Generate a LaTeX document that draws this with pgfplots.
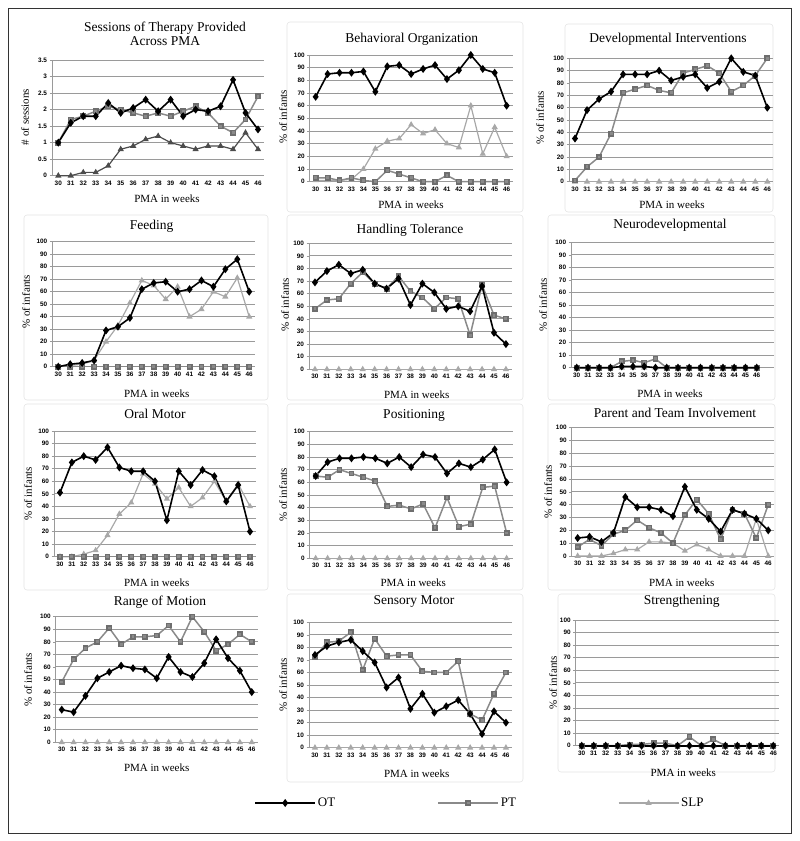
\documentclass[border=0pt]{standalone}
\usepackage{pgfplots}
\pgfplotsset{compat=1.18}
\usepackage{pgfplotstable}
\usepackage{fontspec}
\setmainfont{Liberation Serif}
\newfontfamily\tickfont{Liberation Sans}
\definecolor{gridc}{HTML}{9A9A9A}
\definecolor{ptc}{HTML}{8A8A8A}
\definecolor{ptd}{HTML}{6E6E6E}
\definecolor{slpc}{HTML}{A8A8A8}
\definecolor{framec}{HTML}{E4E4E4}

\pgfplotstableread{
x OT PT SLP
30 1.0 1.0 0
31 1.6 1.7 0
32 1.8 1.8 0.1
33 1.8 1.95 0.1
34 2.2 2.1 0.3
35 1.9 2.0 0.8
36 2.05 1.9 0.9
37 2.3 1.8 1.1
38 1.95 1.9 1.2
39 2.3 1.8 1.0
40 1.8 1.95 0.9
41 2.0 2.1 0.8
42 1.95 1.9 0.9
43 2.1 1.5 0.9
44 2.9 1.3 0.8
45 1.9 1.7 1.3
46 1.4 2.4 0.8
}\sessions
\pgfplotstableread{
x OT PT SLP
30 67 3 1
31 85 3 1
32 86 1 1
33 86 3 2
34 87 1 10
35 71 0 26
36 91 9 32
37 92 6 34
38 85 3 45
39 89 0 38
40 92 0 41
41 81 5 30
42 88 0 27
43 100 0 60
44 89 0 22
45 86 0 43
46 60 0 20
}\behav
\pgfplotstableread{
x OT PT SLP
30 35 1 0
31 58 12 0
32 67 20 0
33 73 39 0
34 87 72 0
35 87 75 0
36 87 78 0
37 90 74 0
38 82 72 0
39 85 88 0
40 87 91 0
41 76 94 0
42 81 88 0
43 100 73 0
44 89 78 0
45 86 86 0
46 60 100 0
}\devel
\pgfplotstableread{
x OT PT SLP
30 0 0 0
31 2 0 1
32 3 0 2
33 5 0 5
34 29 0 20
35 32 0 33
36 39 0 51
37 62 0 69
38 67 0 65
39 68 0 54
40 60 0 64
41 62 0 40
42 69 0 46
43 64 0 60
44 78 0 56
45 86 0 71
46 60 0 40
}\feeding
\pgfplotstableread{
x OT PT SLP
30 69 48 0
31 78 55 0
32 83 56 0
33 76 68 0
34 79 77 0
35 68 68 0
36 64 64 0
37 72 74 0
38 51 62 0
39 68 57 0
40 61 48 0
41 48 57 0
42 50 56 0
43 46 27 0
44 66 67 0
45 29 43 0
46 20 40 0
}\handling
\pgfplotstableread{
x OT PT SLP
30 0 0 0
31 0 0 0
32 0 0 0
33 0 0 0
34 1 5 0
35 1 6 0
36 1 4 0
37 0 7 0
38 0 0 0
39 0 0 0
40 0 0 0
41 0 0 0
42 0 0 0
43 0 0 0
44 0 0 0
45 0 0 0
46 0 0 0
}\neuro
\pgfplotstableread{
x OT PT SLP
30 51 0 0
31 75 0 0
32 80 0 2
33 77 0 5
34 87 0 17
35 71 0 34
36 68 0 43
37 68 0 66
38 60 0 58
39 29 0 46
40 68 0 55
41 57 0 40
42 69 0 47
43 64 0 60
44 44 0 44
45 57 0 58
46 20 0 40
}\oral
\pgfplotstableread{
x OT PT SLP
30 65 65 0
31 76 64 0
32 79 70 0
33 79 67 0
34 80 64 0
35 79 61 0
36 75 41 0
37 80 42 0
38 72 39 0
39 82 43 0
40 80 24 0
41 67 48 0
42 75 25 0
43 72 27 0
44 78 56 0
45 86 57 0
46 60 20 0
}\posit
\pgfplotstableread{
x OT PT SLP
30 14 7 0
31 15 13 0
32 11 8 0
33 18 17 2
34 46 20 5
35 38 28 5
36 38 22 11
37 36 18 11
38 31 10 10
39 54 32 4
40 36 44 9
41 29 33 5
42 19 13 0
43 36 36 0
44 33 33 0
45 29 14 29
46 20 40 0
}\parent
\pgfplotstableread{
x OT PT SLP
30 26 48 0
31 24 66 0
32 37 75 0
33 51 80 0
34 56 91 0
35 61 78 0
36 59 84 0
37 58 84 0
38 51 85 0
39 68 93 0
40 56 80 0
41 52 100 0
42 63 88 0
43 82 73 0
44 67 78 0
45 57 86 0
46 40 80 0
}\rangemo
\pgfplotstableread{
x OT PT SLP
30 74 72 0
31 81 84 0
32 84 85 0
33 86 92 0
34 77 62 0
35 68 87 0
36 48 73 0
37 56 74 0
38 31 74 0
39 43 61 0
40 28 60 0
41 33 60 0
42 38 69 0
43 27 27 0
44 11 22 0
45 29 43 0
46 20 60 0
}\sensory
\pgfplotstableread{
x OT PT SLP
30 0 0 0
31 0 0 0
32 0 0 0
33 0 0 0
34 0 1 0
35 0 1 0
36 0 2 0
37 0 2 0
38 0 0 0
39 0 7 0
40 0 0 0
41 0 5 0
42 0 0 0
43 0 0 0
44 0 0 0
45 0 0 0
46 0 0 0
}\strength

\pgfplotsset{
  panel/.style={scale only axis, anchor=south west,
    xmin=29.5, xmax=46.5, ymin=0, ymax=100,
    xtick={30,...,46}, ytick={0,10,...,100},
    ymajorgrids, grid style={draw=gridc, line width=1pt},
    axis x line*=bottom, axis y line*=left,
    axis line style={draw=gridc, line width=1pt, -},
    tick label style={font=\tickfont\bfseries\fontsize{6.4}{7}\selectfont},
    /pgf/number format/assume math mode=true,
    xtick style={draw=none}, ytick style={draw=gridc, line width=0.6pt},
    major tick length=2.5pt, tick align=outside,
    xticklabel style={yshift=1pt}, yticklabel style={xshift=1pt},
    clip=false},
  ot/.style={black, line width=1.6pt, mark=diamond*, mark size=2.7pt, mark options={solid, fill=black, draw=black}},
  pt/.style={ptc, line width=1.5pt, mark=square*, mark size=2.2pt, mark options={solid, fill=ptc, draw=ptd}},
  slp/.style={slpc, line width=1.2pt, mark=triangle*, mark size=2.4pt, mark options={solid, fill=slpc, draw=slpc}},
}
\newcommand{\ttl}{\fontsize{13.5}{15}\selectfont}
\newcommand{\lbl}{\fontsize{11}{12}\selectfont}
\newcommand{\threeseries}[1]{%
  \addplot[slp] table[x=x,y=SLP]{#1};
  \addplot[pt] table[x=x,y=PT]{#1};
  \addplot[ot] table[x=x,y=OT]{#1};}

\begin{document}
\begin{tikzpicture}
\path[use as bounding box] (0pt,0pt) rectangle (800pt,-841pt);
\draw[black!80, line width=0.8pt] (8pt,-8pt) rectangle (791pt,-833pt);
% faint panel frames
\begin{scope}[framec, line width=0.6pt, rounded corners=3pt]
\draw (287pt,-22pt) rectangle (523pt,-212pt);
\draw (565pt,-24pt) rectangle (773pt,-212pt);
\draw (24pt,-215pt) rectangle (268pt,-400pt);
\draw (287pt,-215pt) rectangle (523pt,-400pt);
\draw (548pt,-215pt) rectangle (775pt,-400pt);
\draw (24pt,-404pt) rectangle (268pt,-590pt);
\draw (287pt,-404pt) rectangle (523pt,-590pt);
\draw (548pt,-404pt) rectangle (775pt,-590pt);
\draw (287pt,-594pt) rectangle (523pt,-782pt);
\draw (558pt,-594pt) rectangle (775pt,-772pt);
\end{scope}

% Row 1
\begin{axis}[panel, at={(52.06pt,-175.7pt)}, width=212.2pt, height=115.7pt, ymax=3.5, ytick={0,0.5,1,1.5,2,2.5,3,3.5}]
\addplot[slp, color=black!70, mark options={fill=black!70, draw=black!70}] table[x=x,y=SLP]{\sessions};
\addplot[pt] table[x=x,y=PT]{\sessions};
\addplot[ot] table[x=x,y=OT]{\sessions};
\end{axis}
\node[align=center, font=\ttl] at (165pt,-34pt) {Sessions of Therapy Provided\\[-1pt]Across PMA};
\node[rotate=90, font=\lbl] at (25pt,-117pt) {\# of sessions};
\node[font=\lbl] at (167pt,-199pt) {PMA in weeks};

\begin{axis}[panel, at={(309.7pt,-181.7pt)}, width=202.9pt, height=126.7pt]
\threeseries{\behav}
\end{axis}
\node[font=\ttl] at (411.7pt,-39.3pt) {Behavioral Organization};
\node[rotate=90, font=\lbl] at (283pt,-117pt) {\% of infants};
\node[font=\lbl] at (411pt,-205pt) {PMA in weeks};

\begin{axis}[panel, at={(569pt,-181.7pt)}, width=204.3pt, height=123.4pt]
\threeseries{\devel}
\end{axis}
\node[font=\ttl] at (668pt,-39pt) {Developmental Interventions};
\node[rotate=90, font=\lbl] at (540pt,-118pt) {\% of infants};
\node[font=\lbl] at (672pt,-205pt) {PMA in weeks};

% Row 2
\begin{axis}[panel, at={(52.3pt,-366.7pt)}, width=202.9pt, height=125pt]
\threeseries{\feeding}
\end{axis}
\node[font=\ttl] at (151.7pt,-226.7pt) {Feeding};
\node[rotate=90, font=\lbl] at (26pt,-302pt) {\% of infants};
\node[font=\lbl] at (156.7pt,-393.3pt) {PMA in weeks};

\begin{axis}[panel, at={(309pt,-369.3pt)}, width=202.9pt, height=126pt]
\threeseries{\handling}
\end{axis}
\node[font=\ttl] at (410pt,-230.7pt) {Handling Tolerance};
\node[rotate=90, font=\lbl] at (285pt,-305pt) {\% of infants};
\node[font=\lbl] at (416.7pt,-394.3pt) {PMA in weeks};

\begin{axis}[panel, at={(571.1pt,-367.7pt)}, width=202.5pt, height=125.4pt, xmax=47.5]
\threeseries{\neuro}
\end{axis}
\node[font=\ttl] at (670pt,-225pt) {Neurodevelopmental};
\node[rotate=90, font=\lbl] at (543pt,-305pt) {\% of infants};
\node[font=\lbl] at (670pt,-393.3pt) {PMA in weeks};

% Row 3
\begin{axis}[panel, at={(54.06pt,-556.7pt)}, width=201.9pt, height=125.7pt]
\threeseries{\oral}
\end{axis}
\node[font=\ttl] at (155pt,-414.3pt) {Oral Motor};
\node[rotate=90, font=\lbl] at (28pt,-494pt) {\% of infants};
\node[font=\lbl] at (156.7pt,-582.7pt) {PMA in weeks};

\begin{axis}[panel, at={(309.7pt,-558.3pt)}, width=202.9pt, height=126.6pt]
\threeseries{\posit}
\end{axis}
\node[font=\ttl] at (414pt,-415.7pt) {Positioning};
\node[rotate=90, font=\lbl] at (283pt,-495pt) {\% of infants};
\node[font=\lbl] at (413.3pt,-582.7pt) {PMA in weeks};

\begin{axis}[panel, at={(571.7pt,-556pt)}, width=202.5pt, height=128.3pt]
\threeseries{\parent}
\end{axis}
\node[font=\ttl] at (675pt,-413.3pt) {Parent and Team Involvement};
\node[rotate=90, font=\lbl] at (548pt,-492pt) {\% of infants};
\node[font=\lbl] at (681.7pt,-582.7pt) {PMA in weeks};

% Row 4
\begin{axis}[panel, at={(55.8pt,-742.3pt)}, width=201.9pt, height=125.6pt]
\threeseries{\rangemo}
\end{axis}
\node[font=\ttl] at (160pt,-601.7pt) {Range of Motion};
\node[rotate=90, font=\lbl] at (28pt,-680pt) {\% of infants};
\node[font=\lbl] at (156.7pt,-767.3pt) {PMA in weeks};

\begin{axis}[panel, at={(309pt,-747.7pt)}, width=202.9pt, height=125.4pt]
\threeseries{\sensory}
\end{axis}
\node[font=\ttl] at (414pt,-601.7pt) {Sensory Motor};
\node[rotate=90, font=\lbl] at (283pt,-685pt) {\% of infants};
\node[font=\lbl] at (416.7pt,-773.3pt) {PMA in weeks};

\begin{axis}[panel, at={(575.7pt,-745.7pt)}, width=203.6pt, height=125.7pt]
\threeseries{\strength}
\end{axis}
\node[font=\ttl] at (681.7pt,-601.7pt) {Strengthening};
\node[rotate=90, font=\lbl] at (553pt,-683pt) {\% of infants};
\node[font=\lbl] at (683.3pt,-772.7pt) {PMA in weeks};

% Legend
\begin{axis}[hide axis, scale only axis, width=1pt, height=1pt, anchor=center,
  at={(480pt,-803pt)}, xmin=0, xmax=1, ymin=0, ymax=1,
  legend columns=3,
  legend image code/.code={\draw[mark repeat=2, mark phase=2, #1] plot coordinates {(0pt,0pt) (30pt,0pt) (60pt,0pt)};},
  legend style={at={(0.5,0.5)}, anchor=center, draw=none, fill=none,
    font=\fontsize{13}{15}\selectfont,
    /tikz/every even column/.append style={column sep=100pt}}]
\addlegendimage{ot}
\addlegendentry{OT}
\addlegendimage{pt}
\addlegendentry{PT}
\addlegendimage{slp}
\addlegendentry{SLP}
\end{axis}
\end{tikzpicture}
\end{document}
